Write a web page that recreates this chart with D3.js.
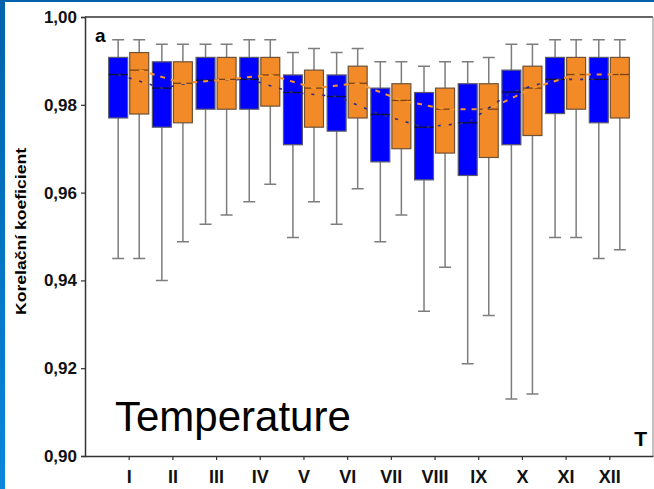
<!DOCTYPE html>
<html>
<head>
<meta charset="utf-8">
<script src="https://cdn.jsdelivr.net/npm/d3@7"></script>
<style>
body { margin: 0; background: #fff; }
svg { display: block; font-family: "Liberation Sans", Arial, sans-serif; }
</style>
</head>
<body>
<svg id="chart" width="654" height="489"></svg>
<script>
// months on the x axis
const months = ["I", "II", "III", "IV", "V", "VI", "VII", "VIII", "IX", "X", "XI", "XII"];
const yTicks = [0.90, 0.92, 0.94, 0.96, 0.98, 1.00];

// blue series (box plot per month)
const blueHigh   = [0.9948, 0.9938, 0.9938, 0.9948, 0.9919, 0.9919, 0.9898, 0.9888, 0.9898, 0.9938, 0.9948, 0.9948];
const blueQ3     = [0.9908, 0.9898, 0.9908, 0.9908, 0.9868, 0.9868, 0.9838, 0.9828, 0.9848, 0.9879, 0.9908, 0.9908];
const blueMedian = [0.9869, 0.9838, 0.9856, 0.9858, 0.9828, 0.9819, 0.9778, 0.9749, 0.9759, 0.9829, 0.9858, 0.9858];
const blueQ1     = [0.9770, 0.9749, 0.9790, 0.9790, 0.9709, 0.9740, 0.9670, 0.9629, 0.9639, 0.9709, 0.9780, 0.9759];
const blueLow    = [0.9450, 0.9400, 0.9528, 0.9579, 0.9498, 0.9528, 0.9488, 0.9330, 0.9210, 0.9130, 0.9498, 0.9450];

// orange series
const orangeHigh   = [0.9948, 0.9938, 0.9938, 0.9948, 0.9928, 0.9928, 0.9898, 0.9898, 0.9908, 0.9938, 0.9948, 0.9948];
const orangeQ3     = [0.9919, 0.9898, 0.9908, 0.9908, 0.9879, 0.9888, 0.9848, 0.9838, 0.9848, 0.9888, 0.9908, 0.9908];
const orangeMedian = [0.9879, 0.9849, 0.9858, 0.9868, 0.9838, 0.9849, 0.9810, 0.9790, 0.9790, 0.9838, 0.9869, 0.9869];
const orangeQ1     = [0.9779, 0.9759, 0.9790, 0.9797, 0.9749, 0.9770, 0.9700, 0.9690, 0.9680, 0.9730, 0.9790, 0.9770];
const orangeLow    = [0.9450, 0.9488, 0.9549, 0.9619, 0.9579, 0.9609, 0.9549, 0.9430, 0.9320, 0.9141, 0.9498, 0.9470];

const series = [
	{key: "blue", fill: "#0000ff", stroke: "#5a5a6a", medianColor: "#111133", lineColor: "#2b2b8c", dash: "3,8", lineWidth: 1.6,
	 low: blueLow, q1: blueQ1, median: blueMedian, q3: blueQ3, high: blueHigh},
	{key: "orange", fill: "#f28a28", stroke: "#6e5238", medianColor: "#7a4412", lineColor: "#f7952c", dash: "5,6", lineWidth: 2,
	 low: orangeLow, q1: orangeQ1, median: orangeMedian, q3: orangeQ3, high: orangeHigh}
];

const svg = d3.select("#chart");
const plot = {left: 85, right: 653, top: 17, bottom: 456};

// blue slide frame on the left / top
const grad = svg.append("defs").append("linearGradient")
	.attr("id", "frame").attr("x1", 0).attr("y1", 0).attr("x2", 0).attr("y2", 1);
grad.append("stop").attr("offset", "0%").attr("stop-color", "#0062aa");
grad.append("stop").attr("offset", "100%").attr("stop-color", "#0a86dc");
svg.append("rect").attr("x", 0).attr("y", 0).attr("width", 5).attr("height", 489).attr("fill", "url(#frame)");
svg.append("rect").attr("x", 0).attr("y", 0).attr("width", 654).attr("height", 2).attr("fill", "#0062aa");

const x = d3.scalePoint().domain(months).range([plot.left, plot.right]).padding(1);
const inner = d3.scaleBand().domain(series.map(s => s.key)).range([-20, 20]).paddingInner(0.1);
const y = d3.scaleLinear().domain([0.90, 1.00]).range([plot.bottom, plot.top]);
const fmt = d3.formatLocale({decimal: ",", thousands: " ", grouping: [3], currency: ["", ""]}).format(".2f");

// frame lines (top and right)
svg.append("line").attr("x1", plot.left).attr("x2", plot.right).attr("y1", plot.top).attr("y2", plot.top)
	.attr("stroke", "#333").attr("stroke-width", 1.5);
svg.append("line").attr("x1", plot.right).attr("x2", plot.right).attr("y1", plot.top).attr("y2", plot.bottom)
	.attr("stroke", "#999").attr("stroke-width", 1.2);

const bw = inner.bandwidth();
const capW = 12;

series.forEach(s => {
	const g = svg.append("g").attr("class", "series-" + s.key);
	const cx = i => x(months[i]) + inner(s.key) + bw / 2;

	// whiskers
	g.selectAll(".whisker")
		.data(months)
		.enter()
		.append("path")
		.attr("d", (m, i) => `M${cx(i)},${y(s.high[i])}V${y(s.q3[i])}M${cx(i)},${y(s.q1[i])}V${y(s.low[i])}` +
			`M${cx(i) - capW / 2},${y(s.high[i])}H${cx(i) + capW / 2}M${cx(i) - capW / 2},${y(s.low[i])}H${cx(i) + capW / 2}`)
		.attr("fill", "none")
		.attr("stroke", "#7d7d7d")
		.attr("stroke-width", 1.5);

	// boxes
	g.selectAll(".box")
		.data(months)
		.enter()
		.append("rect")
		.attr("x", (m, i) => cx(i) - bw / 2)
		.attr("y", (m, i) => y(s.q3[i]))
		.attr("width", bw)
		.attr("height", (m, i) => y(s.q1[i]) - y(s.q3[i]))
		.attr("fill", s.fill)
		.attr("stroke", s.stroke)
		.attr("stroke-width", 1.2);

	// median lines
	g.selectAll(".median")
		.data(months)
		.enter()
		.append("line")
		.attr("x1", (m, i) => cx(i) - bw / 2)
		.attr("x2", (m, i) => cx(i) + bw / 2)
		.attr("y1", (m, i) => y(s.median[i]))
		.attr("y2", (m, i) => y(s.median[i]))
		.attr("stroke", s.medianColor)
		.attr("stroke-width", 1.3);
});

// dashed lines connecting the medians of each series
series.forEach(s => {
	const line = d3.line()
		.x((m, i) => x(m) + inner(s.key) + bw / 2)
		.y((m, i) => y(s.median[i]));
	svg.append("path")
		.datum(months)
		.attr("d", line)
		.attr("fill", "none")
		.attr("stroke", s.lineColor)
		.attr("stroke-width", s.lineWidth)
		.attr("stroke-dasharray", s.dash);
});

// y axis
const yAxis = svg.append("g")
	.attr("transform", `translate(${plot.left},0)`)
	.call(d3.axisLeft(y).tickValues(yTicks).tickFormat(fmt).tickSize(4).tickPadding(4));
yAxis.select(".domain").attr("stroke", "#333").attr("stroke-width", 1.5);
yAxis.selectAll(".tick line").attr("stroke", "#333").attr("stroke-width", 1.2);
yAxis.selectAll(".tick text")
	.attr("font-family", "Liberation Sans, Arial, sans-serif")
	.attr("font-size", 17).attr("font-weight", "bold").attr("fill", "#111");

// x axis
const xAxis = svg.append("g")
	.attr("transform", `translate(0,${plot.bottom})`)
	.call(d3.axisBottom(x).tickSize(4).tickSizeOuter(0));
xAxis.select(".domain").attr("stroke", "#333").attr("stroke-width", 1.5);
xAxis.selectAll(".tick line").attr("stroke", "#333").attr("stroke-width", 1.2);
xAxis.selectAll(".tick text")
	.attr("font-family", "Liberation Sans, Arial, sans-serif")
	.attr("font-size", 18).attr("font-weight", "bold").attr("fill", "#111")
	.attr("y", 27).attr("dy", null);

// y axis title
svg.append("text")
	.attr("transform", "translate(26,231.5) rotate(-90)")
	.attr("text-anchor", "middle")
	.attr("font-size", 15)
	.attr("font-weight", "bold")
	.attr("textLength", 167)
	.attr("lengthAdjust", "spacingAndGlyphs")
	.text("Korelační koeficient");

// panel letter and annotations
svg.append("text").attr("x", 95).attr("y", 41.5)
	.attr("font-size", 19).attr("font-weight", "bold").text("a");
svg.append("text").attr("x", 647).attr("y", 445.5).attr("text-anchor", "end")
	.attr("font-size", 21).attr("font-weight", "bold").text("T");
svg.append("text").attr("x", 115).attr("y", 431)
	.attr("font-size", 42).text("Temperature");
</script>
</body>
</html>
